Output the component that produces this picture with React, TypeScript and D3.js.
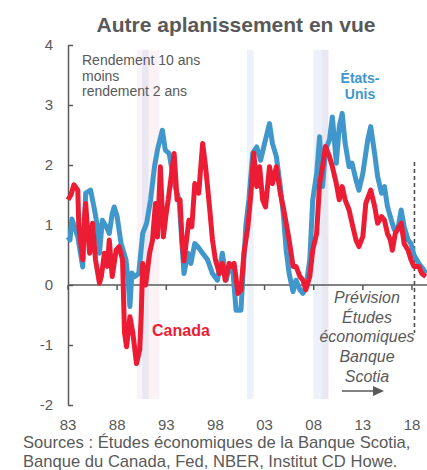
import React, { useEffect, useRef } from 'react';
import * as d3 from 'd3';

// 10-year minus 2-year yield spread, [year, %]
const usSpread: [number, number][] = [
  [1983.0, 0.8], [1983.2, 0.75], [1983.4, 1.1], [1983.7, 0.95], [1984.0, 0.8], [1984.3, 0.5],
  [1984.5, 0.3], [1984.8, 1.53], [1985.3, 1.58], [1985.7, 1.25], [1986.0, 0.97], [1986.2, 0.53],
  [1986.5, 1.08], [1986.9, 0.97], [1987.2, 0.86], [1987.5, 1.19], [1987.7, 1.3], [1988.0, 1.14],
  [1988.4, 0.69], [1988.9, 0.42], [1989.1, 0.1], [1989.3, -0.36], [1989.5, 0.2], [1989.8, 0.14],
  [1990.2, 0.19], [1990.6, 0.86], [1991.0, 1.03], [1991.4, 1.42], [1991.8, 1.97], [1992.1, 2.25],
  [1992.6, 2.58], [1992.9, 2.25], [1993.3, 2.19], [1993.8, 1.69], [1994.3, 1.42], [1994.8, 0.19],
  [1995.2, 0.53], [1995.5, 0.36], [1995.9, 0.69], [1996.2, 0.64], [1996.7, 0.53], [1997.2, 0.42],
  [1997.7, 0.19], [1998.2, 0.08], [1998.7, 0.53], [1999.1, 0.08], [1999.4, 0.31], [1999.8, 0.19],
  [2000.1, -0.42], [2000.6, -0.42], [2001.1, 1.0], [2001.4, 1.42], [2001.8, 2.2], [2002.2, 2.3],
  [2002.6, 2.08], [2003.0, 2.36], [2003.5, 2.69], [2003.8, 2.36], [2004.2, 2.14], [2004.6, 1.64],
  [2004.9, 1.19], [2005.2, 0.58], [2005.5, 0.19], [2005.9, -0.11], [2006.2, 0.08], [2006.6, -0.08],
  [2006.9, -0.14], [2007.2, -0.03], [2007.6, 0.42], [2007.9, 1.42], [2008.3, 1.86], [2008.6, 2.47],
  [2008.9, 1.64], [2009.2, 2.25], [2009.6, 2.42], [2009.9, 2.8], [2010.3, 2.03], [2010.6, 2.64],
  [2010.9, 2.86], [2011.2, 2.36], [2011.6, 1.97], [2011.9, 2.03], [2012.3, 1.75], [2012.6, 1.58],
  [2013.0, 1.86], [2013.5, 2.42], [2013.8, 2.64], [2014.2, 2.19], [2014.5, 1.81], [2014.9, 1.53],
  [2015.2, 1.64], [2015.5, 1.31], [2015.9, 1.08], [2016.2, 0.92], [2016.6, 0.97], [2016.9, 1.25],
  [2017.2, 0.97], [2017.6, 0.75], [2017.9, 0.69], [2018.2, 0.5], [2018.7, 0.36], [2019.2, 0.25],
  [2019.4, 0.19],
];

const canadaSpread: [number, number][] = [
  [1983.0, 1.42], [1983.3, 1.5], [1983.6, 1.67], [1984.0, 1.58], [1984.1, 0.97], [1984.5, 0.42],
  [1984.65, 1.08], [1984.8, 1.36], [1985.0, 0.9], [1985.2, 0.53], [1985.5, 1.03], [1985.8, 0.42],
  [1986.2, 0.03], [1986.4, 0.15], [1986.7, 0.53], [1987.0, 0.31], [1987.2, 0.75], [1987.5, 0.14],
  [1987.9, 0.58], [1988.2, 0.64], [1988.55, 0.42], [1988.75, -0.8], [1988.96, -1.03], [1989.3, -0.53],
  [1989.6, -0.8], [1989.97, -1.31], [1990.3, -1.08], [1990.45, -0.5], [1990.6, 0.36], [1990.9, 0.0],
  [1991.3, 0.53], [1991.6, 0.75], [1991.9, 1.36], [1992.1, 0.8], [1992.4, 1.97], [1992.7, 0.8],
  [1993.0, 1.2], [1993.2, 1.42], [1993.5, 1.81], [1993.8, 2.19], [1994.1, 1.42], [1994.4, 1.42],
  [1994.6, 0.75], [1994.8, 0.4], [1995.3, 1.08], [1995.6, 0.97], [1995.9, 1.69], [1996.3, 1.53],
  [1996.7, 2.36], [1997.0, 1.97], [1997.4, 1.3], [1997.7, 0.75], [1998.0, 0.42], [1998.4, 0.19],
  [1998.7, 0.36], [1999.0, 0.08], [1999.4, 0.36], [1999.7, 0.31], [1999.9, 0.36], [2000.3, -0.14],
  [2000.6, -0.08], [2000.9, 0.53], [2001.3, 0.97], [2001.6, 1.5], [2001.9, 2.2], [2002.2, 1.64],
  [2002.5, 1.97], [2002.8, 1.42], [2003.1, 1.3], [2003.5, 1.97], [2003.8, 1.69], [2004.2, 1.97],
  [2004.6, 1.53], [2004.9, 1.3], [2005.2, 1.03], [2005.5, 0.75], [2005.9, 0.31], [2006.2, 0.31],
  [2006.6, 0.14], [2006.9, 0.08], [2007.2, -0.08], [2007.6, 0.14], [2007.9, 0.58], [2008.3, 0.86],
  [2008.6, 1.69], [2008.9, 1.97], [2009.2, 2.31], [2009.6, 2.14], [2009.9, 1.97], [2010.3, 1.69],
  [2010.6, 1.42], [2010.9, 1.64], [2011.2, 1.42], [2011.6, 1.25], [2011.9, 1.03], [2012.3, 0.75],
  [2012.6, 0.64], [2013.0, 0.81], [2013.3, 1.36], [2013.8, 1.58], [2014.2, 1.31], [2014.5, 1.03],
  [2014.9, 1.14], [2015.2, 1.08], [2015.5, 0.86], [2015.8, 0.75], [2016.0, 0.58], [2016.3, 0.86],
  [2016.9, 1.03], [2017.2, 0.69], [2017.6, 0.58], [2017.9, 0.42], [2018.2, 0.31], [2018.7, 0.31],
  [2019.0, 0.19], [2019.4, 0.14],
];

// recessions: US (NBER) and Canada (CD Howe)
const usRecessions: [number, number][] = [[1990.55, 1991.2], [2001.2, 2001.9], [2007.95, 2009.5]];
const canadaRecessions: [number, number][] = [[1990.0, 1992.3], [2008.8, 2009.5]];

const xTicks = [1983, 1988, 1993, 1998, 2003, 2008, 2013, 2018];
const yTicks = [-2, -1, 0, 1, 2, 3, 4];
const forecastStart = 2018.25;
const forecastLines = ['Prévision', 'Études', 'économiques', 'Banque', 'Scotia'];
const legendLines = ['Rendement 10 ans', 'moins', 'rendement 2 ans'];
const sourceLines = [
  'Sources : Études économiques de la Banque Scotia,',
  'Banque du Canada, Fed, NBER, Institut CD Howe.',
];

const GREY = '#595959';
const BLUE = '#3f97cb';
const RED = '#ec1c34';
const FONT = 'Arial, "Liberation Sans", sans-serif';

const App: React.FC = () => {
  const svgRef = useRef<SVGSVGElement>(null);

  useEffect(() => {
    if (!svgRef.current) return;
    const width = 427;
    const height = 470;
    const svg = d3.select(svgRef.current)
      .attr('width', width)
      .attr('height', height)
      .html('');

    const x = d3.scaleLinear().domain([1983, 2018]).range([68, 412]);
    const y = d3.scaleLinear().domain([-2, 4]).range([405, 45]);

    // recession bands
    svg.append('g').selectAll('rect')
      .data(canadaRecessions)
      .join('rect')
      .attr('x', d => x(d[0]))
      .attr('width', d => x(d[1]) - x(d[0]))
      .attr('y', y(3.92))
      .attr('height', y(-1.9) - y(3.92))
      .attr('fill', 'rgba(232, 190, 200, 0.2)');

    svg.append('g').selectAll('rect')
      .data(usRecessions)
      .join('rect')
      .attr('x', d => x(d[0]))
      .attr('width', d => x(d[1]) - x(d[0]))
      .attr('y', y(3.92))
      .attr('height', y(-1.9) - y(3.92))
      .attr('fill', 'rgba(190, 208, 238, 0.27)');

    // title
    svg.append('text')
      .attr('x', 236)
      .attr('y', 32)
      .attr('text-anchor', 'middle')
      .attr('font-family', FONT)
      .attr('font-size', 21)
      .attr('font-weight', 'bold')
      .attr('fill', GREY)
      .text('Autre aplanissement en vue');

    // y axis, ticks pointing inward
    const yAxis = svg.append('g')
      .attr('transform', `translate(${x(1983)},0)`)
      .call(d3.axisLeft(y).tickValues(yTicks).tickSizeInner(-5).tickSizeOuter(0).tickPadding(15).tickFormat(d => String(d)));
    yAxis.select('.domain').attr('stroke', GREY).attr('stroke-width', 1.5);
    yAxis.selectAll('line').attr('stroke', GREY).attr('stroke-width', 1.5);
    yAxis.selectAll('text')
      .attr('font-family', FONT)
      .attr('font-size', 15)
      .attr('fill', GREY);

    // x axis along zero
    svg.append('line')
      .attr('x1', x(1983)).attr('x2', 427)
      .attr('y1', y(0)).attr('y2', y(0))
      .attr('stroke', GREY).attr('stroke-width', 1.5);
    svg.append('g').selectAll('line')
      .data(xTicks)
      .join('line')
      .attr('x1', d => x(d)).attr('x2', d => x(d))
      .attr('y1', y(0)).attr('y2', y(0) + 5)
      .attr('stroke', GREY).attr('stroke-width', 1.5);
    svg.append('g').selectAll('text')
      .data(xTicks)
      .join('text')
      .attr('x', d => x(d))
      .attr('y', 430)
      .attr('text-anchor', 'middle')
      .attr('font-family', FONT)
      .attr('font-size', 15)
      .attr('fill', GREY)
      .text(d => String(d % 100).padStart(2, '0'));

    // forecast marker
    svg.append('line')
      .attr('x1', x(forecastStart)).attr('x2', x(forecastStart))
      .attr('y1', y(2.05)).attr('y2', y(-0.8))
      .attr('stroke', '#505050').attr('stroke-width', 1.6)
      .attr('stroke-dasharray', '4,3');

    const line = d3.line<[number, number]>()
      .x(d => x(d[0]))
      .y(d => y(d[1]))
      .curve(d3.curveLinear);

    svg.append('path')
      .datum(usSpread)
      .attr('fill', 'none')
      .attr('stroke', BLUE)
      .attr('stroke-width', 5)
      .attr('stroke-linejoin', 'round')
      .attr('d', line);

    svg.append('path')
      .datum(canadaSpread)
      .attr('fill', 'none')
      .attr('stroke', RED)
      .attr('stroke-width', 5)
      .attr('stroke-linejoin', 'round')
      .attr('d', line);

    // legend text
    svg.append('g').selectAll('text')
      .data(legendLines)
      .join('text')
      .attr('x', 82)
      .attr('y', (_, i) => 65 + i * 15.5)
      .attr('font-family', FONT)
      .attr('font-size', 14)
      .attr('fill', GREY)
      .text(d => d);

    // series labels
    svg.append('text')
      .attr('x', 360).attr('y', 83)
      .attr('text-anchor', 'middle')
      .attr('font-family', FONT).attr('font-size', 14).attr('font-weight', 'bold')
      .attr('fill', BLUE)
      .text('États-');
    svg.append('text')
      .attr('x', 360).attr('y', 99)
      .attr('text-anchor', 'middle')
      .attr('font-family', FONT).attr('font-size', 14).attr('font-weight', 'bold')
      .attr('fill', BLUE)
      .text('Unis');
    svg.append('text')
      .attr('x', 152).attr('y', 336)
      .attr('font-family', FONT).attr('font-size', 16).attr('font-weight', 'bold')
      .attr('fill', RED)
      .text('Canada');

    // forecast annotation
    svg.append('g').selectAll('text')
      .data(forecastLines)
      .join('text')
      .attr('x', 367)
      .attr('y', (_, i) => 303 + i * 19.7)
      .attr('text-anchor', 'middle')
      .attr('font-family', FONT)
      .attr('font-size', 16)
      .attr('font-style', 'italic')
      .attr('fill', GREY)
      .text(d => d);

    svg.append('line')
      .attr('x1', 342).attr('x2', 375)
      .attr('y1', 391).attr('y2', 391)
      .attr('stroke', GREY).attr('stroke-width', 1.5);
    svg.append('path')
      .attr('d', 'M373,386 L384,391 L373,396 Z')
      .attr('fill', GREY);

    // sources
    svg.append('g').selectAll('text')
      .data(sourceLines)
      .join('text')
      .attr('x', 23)
      .attr('y', (_, i) => 448 + i * 19)
      .attr('font-family', FONT)
      .attr('font-size', 16.6)
      .attr('fill', GREY)
      .text(d => d);
  }, []);

  return (
    <div style={{ position: 'absolute', left: 0, top: 0, background: '#fff' }}>
      <svg ref={svgRef} style={{ display: 'block' }} />
    </div>
  );
};

export default App;
